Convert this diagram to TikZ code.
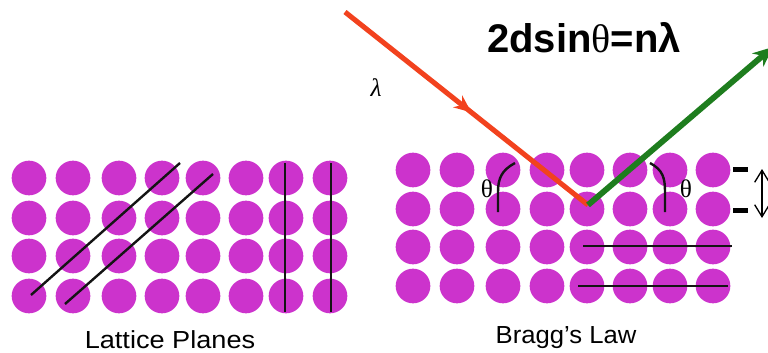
\documentclass[tikz,border=0pt]{standalone}
\usepackage{fontspec}
\setmainfont{Liberation Sans}
\newfontfamily\greekserif{Liberation Serif}
\usetikzlibrary{arrows.meta,decorations.markings}
\definecolor{atom}{RGB}{204,51,204}
\definecolor{rayin}{RGB}{242,66,30}
\definecolor{rayout}{RGB}{30,125,30}
\definecolor{ink}{RGB}{20,20,20}

\begin{document}
\begin{tikzpicture}[x=0.75pt,y=-0.75pt,
  atomdot/.style={circle,fill=atom,minimum size=26pt,inner sep=0pt},
  plane/.style={line width=1.8pt,draw=ink},
  anglearc/.style={line width=1.8pt,draw=ink},
  tickbar/.style={rectangle,fill=black,minimum width=11.25pt,minimum height=4pt,inner sep=0pt},
  caption/.style={inner sep=0pt,anchor=base,font=\fontsize{18.5pt}{20pt}\selectfont},
  greeklabel/.style={inner sep=0pt,font=\greekserif\fontsize{19pt}{20pt}\selectfont}]

\useasboundingbox (0,0) rectangle (768,353);

% left lattice
\foreach \x [count=\i] in {29,73,119,162,203,246,286,330}
  \foreach \y [count=\j] in {178,218,256,296}
    \node[atomdot] (L\i-\j) at (\x,\y) {};

% right lattice
\foreach \x [count=\i] in {413,457,503,547,587,630,670,713}
  \foreach \y [count=\j] in {170,209,247,286}
    \node[atomdot] (R\i-\j) at (\x,\y) {};

% lattice planes
\coordinate (da1) at (31,295);  \coordinate (db1) at (180,163);
\coordinate (da2) at (65,304);  \coordinate (db2) at (213,174);
\coordinate (va1) at (285,163); \coordinate (vb1) at (285,312);
\coordinate (va2) at (331,163); \coordinate (vb2) at (331,312);
\draw[plane] (da1) -- (db1);
\draw[plane] (da2) -- (db2);
\draw[plane] (va1) -- (vb1);
\draw[plane] (va2) -- (vb2);

\coordinate (ha1) at (583,246); \coordinate (hb1) at (732,246);
\coordinate (ha2) at (578,286); \coordinate (hb2) at (728,286);
\draw[plane] (ha1) -- (hb1);
\draw[plane] (ha2) -- (hb2);

% angle marks
\draw[anglearc] (515,163) .. controls (502,170) and (498,178) .. (498,192) -- (498,212);
\draw[anglearc] (650,163) .. controls (663,170) and (665,178) .. (665,192) -- (665,212);
\node[greeklabel] (thl) at (487,189) {θ};
\node[greeklabel] (thr) at (686,189) {θ};

% incident and diffracted rays
\coordinate (src) at (345,12);
\coordinate (hit) at (588,205);
\coordinate (out) at (773,47);
\draw[rayin,line width=3.8pt,
  decoration={markings,mark=at position 0.52 with {\arrow{Stealth[length=13pt,width=11pt]}}},
  postaction={decorate}] (src) -- (hit);
\draw[rayout,line width=4.4pt,-{Stealth[length=15pt,width=13pt]}] (hit) -- (out);

\node[greeklabel,font=\greekserif\itshape\fontsize{19pt}{20pt}\selectfont] (lam) at (376,88) {λ};

% spacing d
\node[tickbar] (t1) at (740.5,169.5) {};
\node[tickbar] (t2) at (740.5,210.5) {};
\coordinate (dtop) at (762,169);
\coordinate (dbot) at (762,218);
\draw[line width=1pt,{Straight Barb[length=9pt,width=11pt]}-{Straight Barb[length=9pt,width=11pt]}] (dtop) -- (dbot);

% formula and captions
\node[inner sep=0pt,anchor=base] (law) at (584,53)
  {\fontsize{30pt}{32pt}\selectfont\bfseries 2dsin{\greekserif\mdseries θ}=nλ};
\node[caption] (cap1) at (170,348) {\scalebox{1.1}[1]{Lattice Planes}};
\node[caption] (cap2) at (566,343) {\scalebox{1.04}[1]{Bragg’s Law}};
\end{tikzpicture}
\end{document}
